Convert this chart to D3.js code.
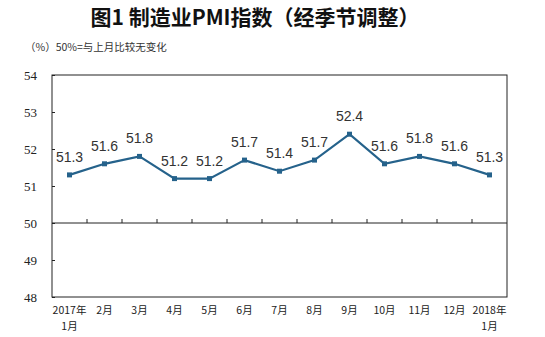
<!DOCTYPE html>
<html><head><meta charset="utf-8">
<script src="https://cdn.jsdelivr.net/npm/d3@7"></script>
<style>body{margin:0;background:#fff}svg{display:block}</style>
</head><body><svg id="c" width="545" height="337"></svg>
<script>
const categories = ["2017年\n1月","2月","3月","4月","5月","6月","7月","8月","9月","10月","11月","12月","2018年\n1月"];
const values = [51.3,51.6,51.8,51.2,51.2,51.7,51.4,51.7,52.4,51.6,51.8,51.6,51.3];
const yTicks = [48,49,50,51,52,53,54];
const title = "图1  制造业PMI指数（经季节调整）";
const subtitle = "（%）50%=与上月比较无变化";

const svg = d3.select("#c");
const pL = 52, pR = 507, pT = 75, pB = 297;
const x = d3.scaleBand().domain(categories).range([pL, pR]).padding(0);
const y = d3.scaleLinear().domain([48,54]).range([pB, pT]);
const cx = d => x(d) + x.bandwidth()/2;

svg.append("text").attr("x", 255).attr("y", 25).attr("text-anchor","middle")
  .attr("font-family","'Noto Sans CJK SC'").attr("font-weight","bold").attr("font-size",21).attr("fill","#111").text(title);
svg.append("text").attr("x", 25).attr("y", 51)
  .attr("font-family","'Noto Sans CJK SC'").attr("font-size",10.5).attr("fill","#333").text(subtitle);

// frame
svg.append("rect").attr("x",pL).attr("y",pT).attr("width",pR-pL).attr("height",pB-pT)
  .attr("fill","none").attr("stroke","#222").attr("stroke-width",1);

// y axis
const yAxis = d3.axisLeft(y).tickValues(yTicks).tickSize(-3).tickPadding(15).tickFormat(d3.format("d"));
const ya = svg.append("g").attr("transform",`translate(${pL},0)`).call(yAxis);
ya.select(".domain").remove();
ya.selectAll("line").attr("stroke","#222");
ya.selectAll("text").attr("font-family","'Liberation Serif'").attr("font-size",13).attr("fill","#222");

// x axis at 50
const xa = svg.append("g").attr("transform",`translate(0,${y(50)})`);
xa.append("line").attr("x1",pL).attr("x2",pR).attr("stroke","#222");
xa.selectAll("line.t").data(categories.slice(1)).join("line").attr("class","t")
  .attr("x1",d=>x(d)).attr("x2",d=>x(d)).attr("y1",0).attr("y2",-4).attr("stroke","#222");

// x labels
const xl = svg.append("g");
categories.forEach(c => {
  const parts = c.split("\n");
  parts.forEach((p,i) => {
    xl.append("text").attr("x", cx(c)).attr("y", 314 + i*15.5).attr("text-anchor","middle")
      .attr("font-family","'Noto Sans CJK SC'").attr("font-size",10.5).attr("fill","#222").text(p);
  });
});

// line
const color = "#25628b";
const line = d3.line().x((d,i)=>cx(categories[i])).y(d=>y(d));
svg.append("path").datum(values).attr("d",line).attr("fill","none").attr("stroke",color).attr("stroke-width",2.2);
svg.selectAll("rect.m").data(values).join("rect").attr("class","m")
  .attr("x",(d,i)=>cx(categories[i])-2.5).attr("y",d=>y(d)-2.5).attr("width",5).attr("height",5).attr("fill",color);
svg.selectAll("text.v").data(values).join("text").attr("class","v")
  .attr("x",(d,i)=>cx(categories[i])).attr("y",d=>y(d)-13).attr("text-anchor","middle")
  .attr("font-family","'Liberation Sans'").attr("font-size",14).attr("fill","#333").text(d=>d.toFixed(1));
</script></body></html>
